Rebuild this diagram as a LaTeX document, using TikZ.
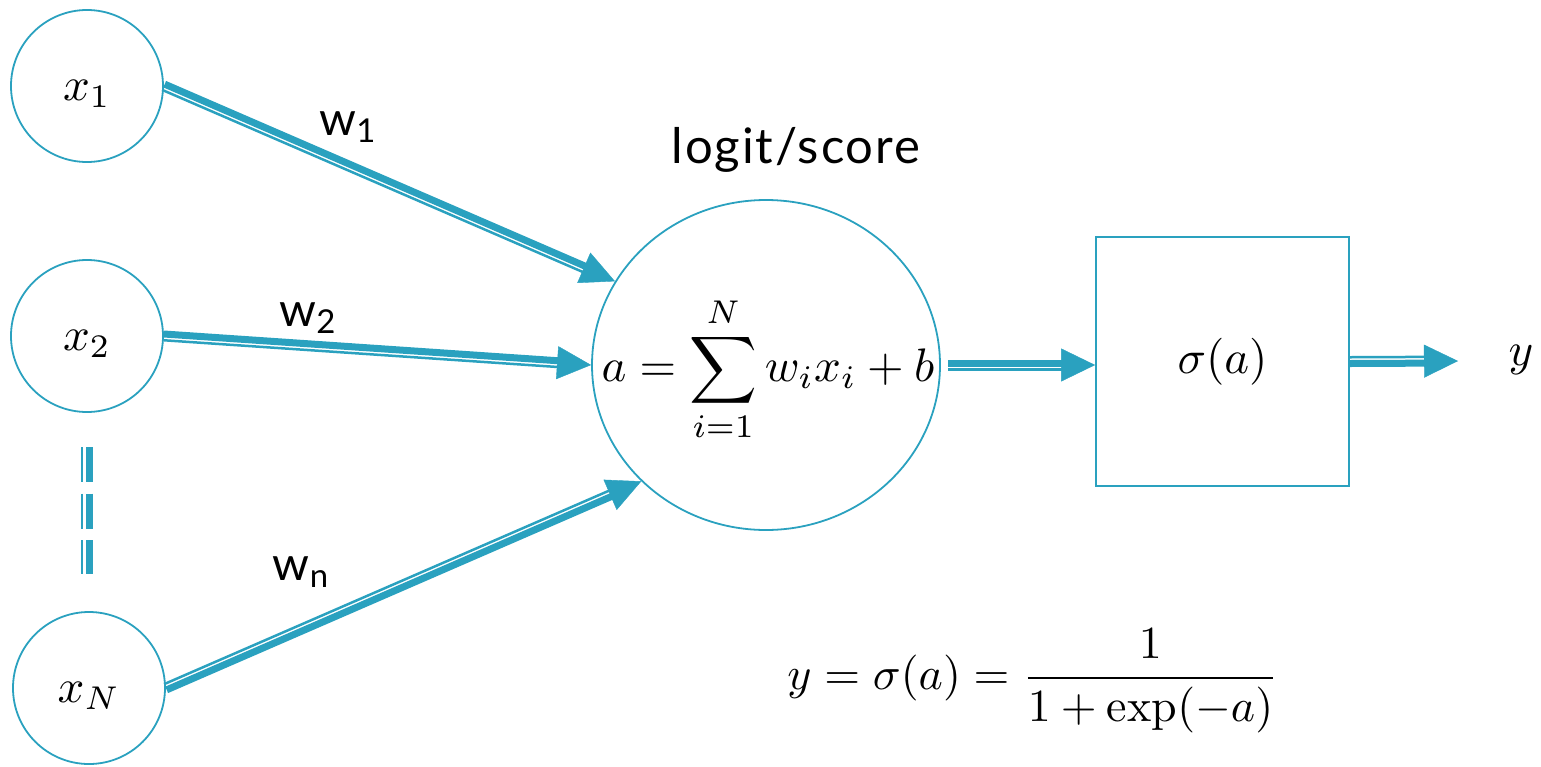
\documentclass[tikz,border=0pt]{standalone}
\usepackage{amsmath}
\usepackage{graphicx}
\usepackage{fontspec}
\usetikzlibrary{shapes.geometric,arrows.meta,calc}
\newfontfamily\labfont{Lato}
\newfontfamily\logitfont[LetterSpace=4]{Lato}
\definecolor{tl}{RGB}{42,161,191}
\newcommand\bt[1]{\scalebox{2.35}{#1}}
\tikzset{
  inp/.style={circle, draw=tl, line width=0.9pt, minimum size=76pt, inner sep=0pt,
              text height=14pt, text depth=0pt},
  sumst/.style={ellipse, draw=tl, line width=0.9pt, minimum width=174pt, minimum height=165pt, inner sep=0pt},
  boxst/.style={rectangle, draw=tl, line width=0.9pt, minimum width=126.5pt, minimum height=124.5pt, inner sep=0pt},
  wlab/.style={font=\labfont\fontsize{23.5}{28}\selectfont, inner sep=0pt},
  toplab/.style={font=\logitfont\fontsize{24.5}{28}\selectfont, inner sep=0pt},
  tipln/.style={draw=tl, fill=tl, line width=0.2pt, -{Triangle[length=17pt,width=16.5pt]}},
  thickln/.style={draw=tl, line width=3.5pt, shorten >=16pt},
  thinln/.style={draw=tl, line width=1.25pt, shorten >=16pt},
  dashthick/.style={draw=tl, line width=3.5pt, dash pattern=on 17.5pt off 5.75pt},
  dashthin/.style={draw=tl, line width=1.15pt, dash pattern=on 17.5pt off 5.75pt},
}
% #1 gap at start, #2 start, #3 tip, #4 side of the thick line (1 left, -1 right)
\newcommand\dblarr[4][0pt]{%
  \draw[tipln, shorten <=#1] (#2) -- (#3);
  \draw[thickln, shorten <=#1] ($(#2)!#4*1pt!90:(#3)$) -- ($(#3)!#4*1pt!-90:(#2)$);
  \draw[thinln, shorten <=#1] ($(#2)!#4*-2.125pt!90:(#3)$) -- ($(#3)!#4*-2.125pt!-90:(#2)$);
}
\begin{document}
\begin{tikzpicture}[x=0.5pt,y=-0.5pt]
\useasboundingbox (0,0) rectangle (1541,766);

% inputs
\node[inp] (x1) at (87,86) {\bt{$x_1$}};
\node[inp] (x2) at (87,336) {\bt{$x_2$}};
\node[inp] (xN) at (89,688) {\bt{$x_N$}};

% dots between x2 and xN
\coordinate (dtop) at (82,447);
\coordinate (dbot) at (82,574);
\draw[dashthin] (dtop) -- (dbot);
\draw[dashthick] ([xshift=3.65pt]dtop) -- ([xshift=3.65pt]dbot);

% summation unit
\node[sumst] (sum) at (766,365) {};
\node[inner sep=0pt] (sumtxt) at (768,369) {\bt{$\displaystyle a=\sum_{i=1}^{N} w_i x_i + b$}};
\node[toplab] (logit) at (796,150) {logit/score};

% activation box
\node[boxst] (act) at (1222.5,361.5) {\bt{$\sigma(a)$}};
\coordinate (actin) at (act.west |- sum.east);

% output
\coordinate (yend) at (1458,361);
\node[anchor=base, inner sep=0pt] (yl) at (1521,365) {\bt{$y$}};

% weights
\node[wlab] (w1) at (348,127) {w\textsubscript{1}};
\node[wlab] (w2) at (308,318) {w\textsubscript{2}};
\node[wlab] (wn) at (301,572) {w\textsubscript{n}};

% connectors
\dblarr{x1.east}{sum.151}{1}
\dblarr{x2.east}{sum.west}{1}
\dblarr{xN.east}{sum.223}{-1}
\dblarr[3.5pt]{sum.east}{actin}{1}
\dblarr{act.east}{yend}{-1}

% formula
\node[inner sep=0pt] (fm) at (1033,681) {\scalebox{2.3}{$\displaystyle y=\sigma(a)=\frac{1}{1+\exp(-a)}$}};
\end{tikzpicture}
\end{document}
